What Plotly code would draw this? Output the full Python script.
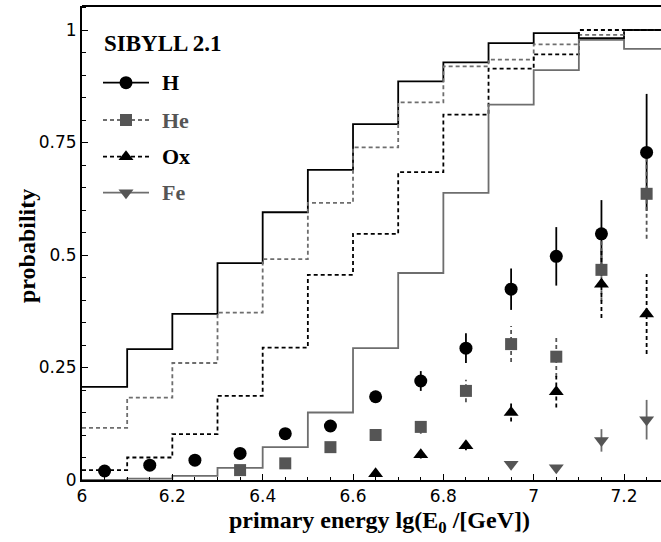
import plotly.graph_objects as go

# ---- data -------------------------------------------------------------
# histogram bins (lower edges) of lg(E0/GeV); bin width 0.1
bin_lo = [6.0, 6.1, 6.2, 6.3, 6.4, 6.5, 6.6, 6.7, 6.8, 6.9, 7.0, 7.1, 7.2]
bin_hi_last = 7.3
bin_mid = [6.05, 6.15, 6.25, 6.35, 6.45, 6.55, 6.65, 6.75, 6.85, 6.95, 7.05, 7.15, 7.25]

# step curves (one value per bin)
H_step  = [0.207, 0.291, 0.369, 0.482, 0.595, 0.689, 0.791, 0.886, 0.928, 0.971, 0.993, 0.982, 1.000]
He_step = [0.116, 0.183, 0.260, 0.372, 0.491, 0.616, 0.739, 0.839, 0.919, 0.934, 0.968, 0.989, 1.000]
Ox_step = [0.022, 0.050, 0.102, 0.187, 0.294, 0.456, 0.547, 0.684, 0.812, 0.914, 0.946, 1.000, 1.000]
Fe_step = [0.000, 0.003, 0.009, 0.027, 0.073, 0.150, 0.293, 0.460, 0.638, 0.834, 0.911, 0.978, 0.958]

# points with uncertainties (None = no entry in that bin)
H_pts  = [0.020, 0.033, 0.044, 0.059, 0.103, 0.120, 0.185, 0.220, 0.293, 0.424, 0.497, 0.547, 0.728]
H_err  = [0.0, 0.0, 0.0, 0.0, 0.0, 0.0, 0.013, 0.022, 0.033, 0.046, 0.065, 0.075, 0.130]
He_pts = [None, None, None, 0.022, 0.037, 0.073, 0.100, 0.118, 0.198, 0.302, 0.274, 0.467, 0.636]
He_err = [0.0, 0.0, 0.0, 0.0, 0.0, 0.0, 0.008, 0.015, 0.025, 0.040, 0.045, 0.070, 0.100]
Ox_pts = [None, None, None, None, None, None, 0.014, 0.056, 0.076, 0.150, 0.196, 0.435, 0.369]
Ox_err = [0.0, 0.0, 0.0, 0.0, 0.0, 0.0, 0.005, 0.008, 0.010, 0.020, 0.035, 0.075, 0.089]
Fe_pts = [None, None, None, None, None, None, None, None, None, 0.035, 0.027, 0.088, 0.134]
Fe_err = [0.0, 0.0, 0.0, 0.0, 0.0, 0.0, 0.0, 0.0, 0.0, 0.0, 0.0, 0.025, 0.044]

x_ticks = [6.0, 6.2, 6.4, 6.6, 6.8, 7.0, 7.2]
x_ticktext = ["6", "6.2", "6.4", "6.6", "6.8", "7", "7.2"]
y_ticks = [0, 0.25, 0.5, 0.75, 1.0]
y_ticktext = ["0", "0.25", "0.5", "0.75", "1"]

model_label = "SIBYLL 2.1"
species = ["H", "He", "Ox", "Fe"]
x_title = "<b>primary energy lg(E<sub>0</sub> /[GeV])</b>"
y_title = "<b>probability</b>"

# ---- styles -----------------------------------------------------------
BLACK = "#000000"
GREY_LINE = "#6e6e6e"
GREY_MARK = "#555555"
DASH = "4px,3px"
SERIF = "Liberation Serif, Times New Roman, serif"
SANS = "DejaVu Sans, Arial, sans-serif"

style = {
    "H":  dict(line=BLACK, dash="solid", mcol=BLACK, sym="circle", msize=13, text=BLACK),
    "He": dict(line=GREY_LINE, dash=DASH, mcol=GREY_MARK, sym="square", msize=12, text=GREY_MARK),
    "Ox": dict(line=BLACK, dash=DASH, mcol=BLACK, sym="triangle-up", msize=13, text=BLACK),
    "Fe": dict(line=GREY_LINE, dash="solid", mcol=GREY_MARK, sym="triangle-down", msize=13, text=GREY_MARK),
}
steps = {"H": H_step, "He": He_step, "Ox": Ox_step, "Fe": Fe_step}
points = {"H": (H_pts, H_err), "He": (He_pts, He_err), "Ox": (Ox_pts, Ox_err), "Fe": (Fe_pts, Fe_err)}

fig = go.Figure()

# step histograms
for s in species:
    st = style[s]
    fig.add_trace(go.Scatter(
        x=bin_lo + [bin_hi_last], y=steps[s] + [steps[s][-1]],
        mode="lines", line=dict(color=st["line"], width=1.8, dash=st["dash"], shape="hv"),
        showlegend=False, hoverinfo="skip"))

# vertical uncertainty bars (drawn as line segments so they can be dashed)
for s in species:
    st = style[s]
    vals, errs = points[s]
    ex, ey = [], []
    for xm, v, e in zip(bin_mid, vals, errs):
        if v is None or e <= 0:
            continue
        ex += [xm, xm, None]
        ey += [v - e, v + e, None]
    if ex:
        fig.add_trace(go.Scatter(
            x=ex, y=ey, mode="lines",
            line=dict(color=st["line"] if s != "He" else GREY_MARK, width=1.8, dash=st["dash"]),
            showlegend=False, hoverinfo="skip"))

# markers
for s in species:
    st = style[s]
    vals, _ = points[s]
    xs = [xm for xm, v in zip(bin_mid, vals) if v is not None]
    ys = [v for v in vals if v is not None]
    fig.add_trace(go.Scatter(
        x=xs, y=ys, mode="markers",
        marker=dict(symbol=st["sym"], size=st["msize"], color=st["mcol"], line=dict(width=0)),
        showlegend=False, cliponaxis=False))

# ---- legend block (drawn in a pixel-coordinate overlay) ------------------
W, H = 661, 542
PLOT_L, PLOT_R, PLOT_T, PLOT_B = 82, 661, 6, 480
leg_x0, leg_x1, leg_mx, leg_tx = 103, 149, 126, 160
leg_rows = [82.7, 120.0, 156.7, 192.7]
for s, yy in zip(species, leg_rows):
    st = style[s]
    fig.add_trace(go.Scatter(
        x=[leg_x0, leg_x1], y=[yy, yy], xaxis="x2", yaxis="y2", mode="lines",
        line=dict(color=st["line"], width=1.8, dash=st["dash"]),
        showlegend=False, hoverinfo="skip"))
    fig.add_trace(go.Scatter(
        x=[leg_mx], y=[yy], xaxis="x2", yaxis="y2", mode="markers",
        marker=dict(symbol=st["sym"], size=st["msize"], color=st["mcol"], line=dict(width=0)),
        showlegend=False, hoverinfo="skip"))
    fig.add_annotation(x=leg_tx, y=yy, xref="x2", yref="y2", text=f"<b>{s}</b>",
                       showarrow=False, xanchor="left", yanchor="middle",
                       font=dict(family=SERIF, size=22, color=st["text"]))
fig.add_annotation(x=leg_x0 - 1, y=43, xref="x2", yref="y2", text=f"<b>{model_label}</b>",
                   showarrow=False, xanchor="left", yanchor="middle",
                   font=dict(family=SERIF, size=23, color=BLACK))


def px_to_paper(px, py):
    return (px - PLOT_L) / (PLOT_R - PLOT_L), (PLOT_B - py) / (PLOT_B - PLOT_T)


# axis titles (paper coordinates, positioned in the margins)
tx, ty = px_to_paper(379, 522)
fig.add_annotation(x=tx, y=ty, xref="paper", yref="paper", text=x_title,
                   showarrow=False, xanchor="center", yanchor="middle",
                   font=dict(family=SERIF, size=24, color=BLACK))
tx, ty = px_to_paper(27, 246)
fig.add_annotation(x=tx, y=ty, xref="paper", yref="paper", text=y_title,
                   textangle=-90, showarrow=False, xanchor="center", yanchor="middle",
                   font=dict(family=SERIF, size=24, color=BLACK))

fig.update_layout(
    width=W, height=H,
    margin=dict(l=PLOT_L, r=W - PLOT_R, t=PLOT_T, b=H - PLOT_B),
    paper_bgcolor="white", plot_bgcolor="white",
    showlegend=False,
    xaxis=dict(range=[6.0, 6.0 + (PLOT_R - PLOT_L) / 451.7],
               tickmode="array", tickvals=x_ticks, ticktext=x_ticktext,
               ticks="inside", ticklen=6, tickwidth=1.2, tickcolor=BLACK,
               minor=dict(dtick=0.05, tick0=6.0, ticks="inside", ticklen=3.5, tickwidth=1.0, tickcolor=BLACK),
               showline=True, linecolor=BLACK, linewidth=2, mirror=False,
               showgrid=False, zeroline=False,
               tickfont=dict(family=SANS, size=17, color=BLACK)),
    yaxis=dict(range=[0, (PLOT_B - PLOT_T) / 450.0],
               tickmode="array", tickvals=y_ticks, ticktext=y_ticktext,
               ticks="inside", ticklen=6, tickwidth=1.2, tickcolor=BLACK,
               minor=dict(dtick=0.05, tick0=0, ticks="inside", ticklen=3.5, tickwidth=1.0, tickcolor=BLACK),
               showline=True, linecolor=BLACK, linewidth=2, mirror=False,
               showgrid=False, zeroline=False,
               tickfont=dict(family=SANS, size=17, color=BLACK)),
    xaxis2=dict(overlaying="x", anchor="y2", range=[PLOT_L, PLOT_R], visible=False, fixedrange=True),
    yaxis2=dict(overlaying="y", anchor="x2", range=[PLOT_B, PLOT_T], visible=False, fixedrange=True),
    shapes=[dict(type="line", xref="paper", yref="paper", x0=0, x1=1, y0=1, y1=1,
                 line=dict(color=BLACK, width=2))],
)

fig.write_html("out.html")
